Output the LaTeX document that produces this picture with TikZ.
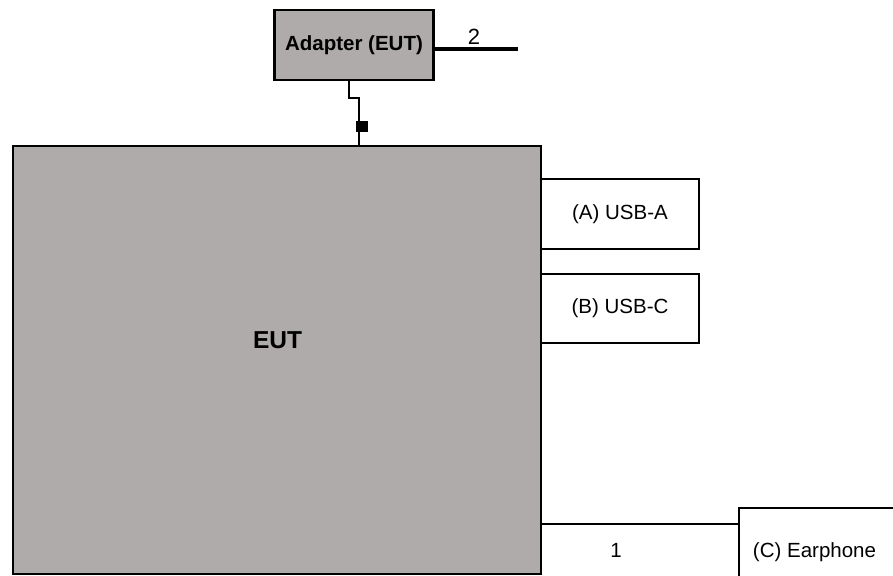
\documentclass[tikz,border=0pt]{standalone}
\usepackage{fontspec}
\setmainfont{Liberation Sans}
\definecolor{eutgray}{RGB}{175,171,170}
\begin{document}
\begin{tikzpicture}[x=1pt,y=-1pt,
  box/.style={draw=black, line width=2.5pt, inner sep=0pt, outer sep=0pt, font=\fontsize{20.5}{24}\selectfont},
  grbox/.style={box, fill=eutgray},
  lbl/.style={font=\fontsize{20.5}{24}\selectfont, inner sep=0pt, anchor=base},
  wire/.style={line width=2pt},
  thick wire/.style={line width=3.5pt}]
\useasboundingbox (0,0) rectangle (893,575);
% boxes
\node[grbox, minimum width=159pt, minimum height=70pt, font=\fontsize{20.5}{24}\selectfont\bfseries] (adapter) at (354,45) {Adapter (EUT)};
\node[grbox, minimum width=528pt, minimum height=428pt] (eut) at (277,360) {};
\node[lbl, font=\fontsize{24.5}{28}\selectfont\bfseries] (eutlbl) at (277.5,348) {EUT};
\node[box, fill=white, minimum width=158pt, minimum height=70pt] (usba) at (620,214) {(A) USB-A};
\node[box, fill=white, minimum width=158pt, minimum height=69pt] (usbc) at (620,308.5) {(B) USB-C};
\node[box, fill=white, minimum width=170pt, minimum height=90pt] (ear) at (824,553) {};
\node[lbl] (earlbl) at (814.5,557) {(C) Earphone};
% adapter cable to EUT
\coordinate (j1) at (349,98);
\coordinate (j2) at (359,98);
\draw[wire] (adapter.south -| j1) -- (j1) -- (j2) -- (eut.north -| j2);
\node[fill=black, inner sep=0pt, minimum width=12pt, minimum height=11pt] (plug) at (362,126.5) {};
% cable 2
\coordinate (end2) at (518,49);
\draw[thick wire] (adapter.east |- end2) -- (end2);
\node[lbl, font=\fontsize{22}{26}\selectfont] (two) at (474,45) {2};
% cable 1
\draw[wire] (eut.east |- 0,524) -- (ear.west |- 0,524);
\node[lbl] (one) at (616,557) {1};
\end{tikzpicture}
\end{document}
